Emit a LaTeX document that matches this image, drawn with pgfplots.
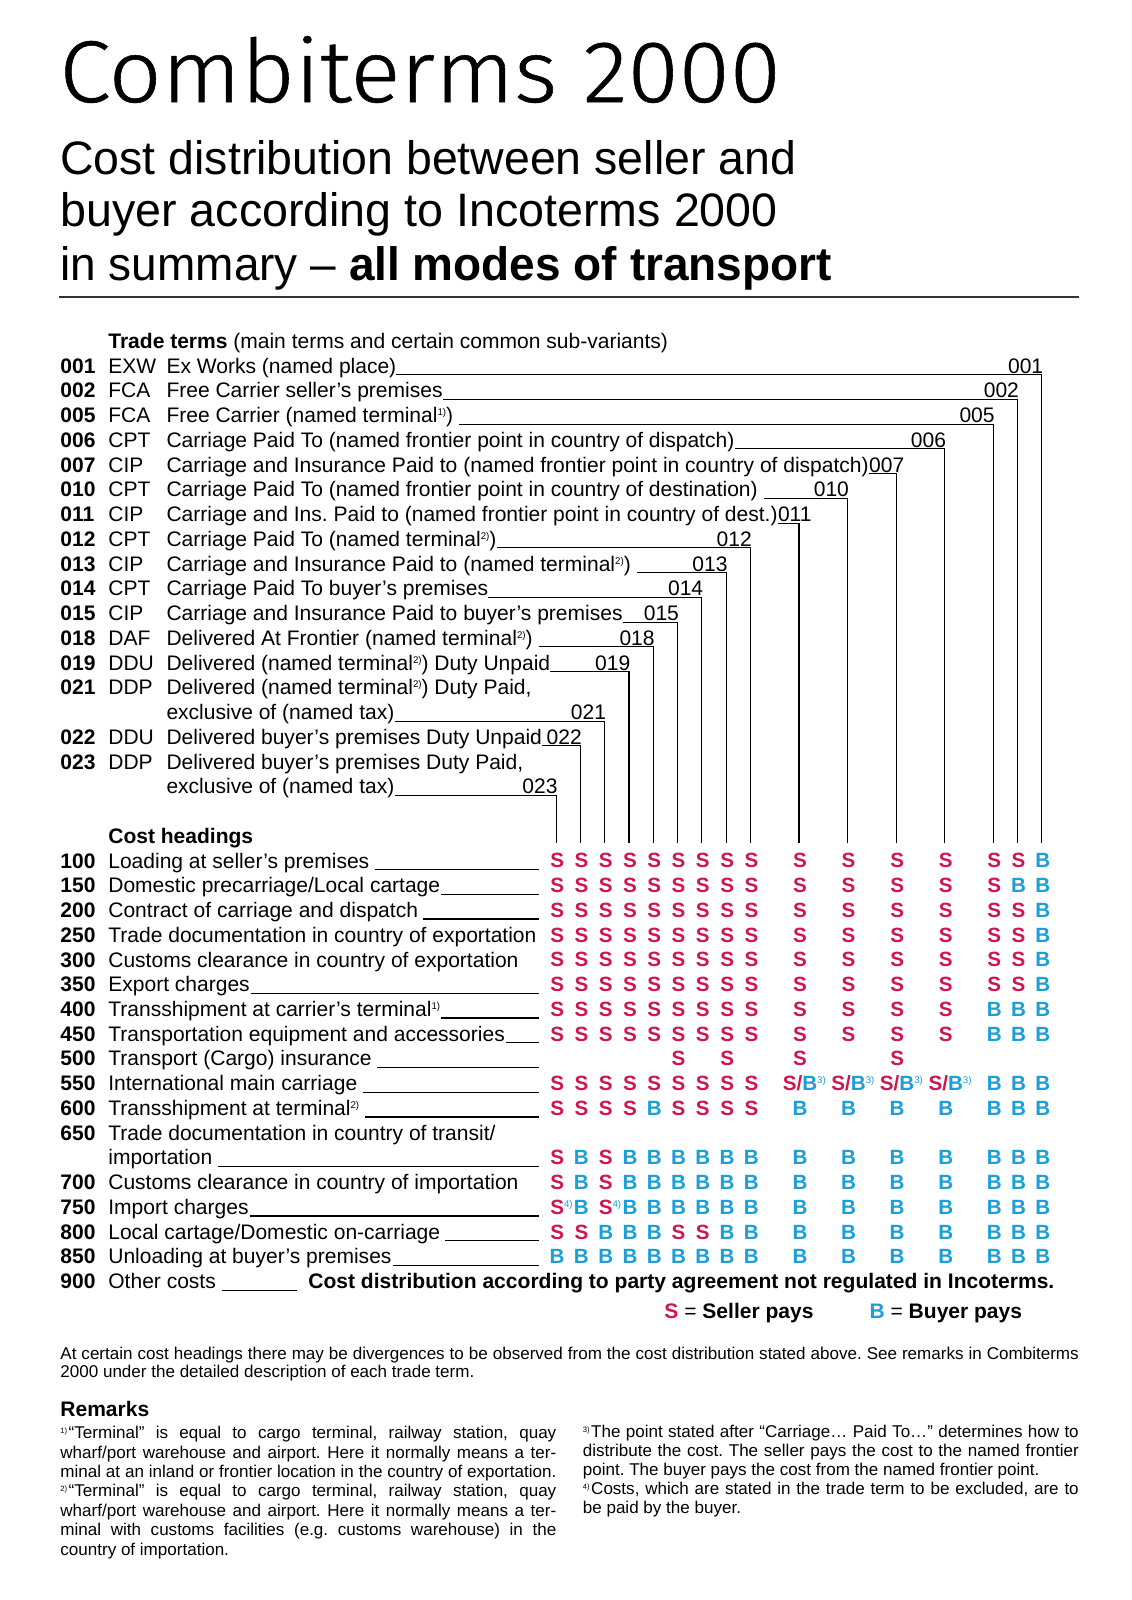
\documentclass[border=0pt]{standalone}
\usepackage{fontspec}
\setmainfont{Liberation Sans}
\newfontfamily\titlefont{Fira Sans Light}[FakeBold=0.6]
\usepackage{graphicx}
\usepackage{pgfplots}
\pgfplotsset{compat=1.18}
\usepackage{pgfplotstable}
\definecolor{sred}{RGB}{206,22,82}
\definecolor{bblue}{RGB}{28,158,214}
\frenchspacing
\newcommand\body{\fontsize{20.6}{24.25}\selectfont}
\newcommand\mbody{\bfseries\fontsize{20.2}{24.25}\selectfont}
\newcommand\fn{\fontsize{16.7}{19}\selectfont}
\newcommand\spp[1]{\raisebox{0.62ex}{\mdseries\fontsize{9.5}{9.5}\selectfont #1}}
\newcommand\fsp[1]{\raisebox{0.6ex}{\fontsize{7.5}{7.5}\selectfont #1}\hspace{1.5pt}}
\newcommand\rbase[1]{341.4+24.25*(#1)}
\newcommand\rline[1]{342.9+24.25*(#1)}
\newcommand\cx[1]{546+23.8*(#1)}

% S cells: k = column grid index, n = row index
\pgfplotstableread[row sep=\\]{
k n\\
0 21\\1 21\\2 21\\3 21\\4 21\\5 21\\6 21\\7 21\\8 21\\10 21\\12 21\\14 21\\16 21\\18 21\\19 21\\
0 22\\1 22\\2 22\\3 22\\4 22\\5 22\\6 22\\7 22\\8 22\\10 22\\12 22\\14 22\\16 22\\18 22\\
0 23\\1 23\\2 23\\3 23\\4 23\\5 23\\6 23\\7 23\\8 23\\10 23\\12 23\\14 23\\16 23\\18 23\\19 23\\
0 24\\1 24\\2 24\\3 24\\4 24\\5 24\\6 24\\7 24\\8 24\\10 24\\12 24\\14 24\\16 24\\18 24\\19 24\\
0 25\\1 25\\2 25\\3 25\\4 25\\5 25\\6 25\\7 25\\8 25\\10 25\\12 25\\14 25\\16 25\\18 25\\19 25\\
0 26\\1 26\\2 26\\3 26\\4 26\\5 26\\6 26\\7 26\\8 26\\10 26\\12 26\\14 26\\16 26\\18 26\\19 26\\
0 27\\1 27\\2 27\\3 27\\4 27\\5 27\\6 27\\7 27\\8 27\\10 27\\12 27\\14 27\\16 27\\
0 28\\1 28\\2 28\\3 28\\4 28\\5 28\\6 28\\7 28\\8 28\\10 28\\12 28\\14 28\\16 28\\
5 29\\7 29\\10 29\\14 29\\
0 30\\1 30\\2 30\\3 30\\4 30\\5 30\\6 30\\7 30\\8 30\\
0 31\\1 31\\2 31\\3 31\\5 31\\6 31\\7 31\\8 31\\
0 33\\2 33\\
0 34\\2 34\\
0 36\\1 36\\5 36\\6 36\\
}\Stab

% B cells
\pgfplotstableread[row sep=\\]{
k n\\
20 21\\
19 22\\20 22\\
20 23\\20 24\\20 25\\20 26\\
18 27\\19 27\\20 27\\
18 28\\19 28\\20 28\\
18 30\\19 30\\20 30\\
4 31\\10 31\\12 31\\14 31\\16 31\\18 31\\19 31\\20 31\\
1 33\\3 33\\4 33\\5 33\\6 33\\7 33\\8 33\\10 33\\12 33\\14 33\\16 33\\18 33\\19 33\\20 33\\
1 34\\3 34\\4 34\\5 34\\6 34\\7 34\\8 34\\10 34\\12 34\\14 34\\16 34\\18 34\\19 34\\20 34\\
1 35\\3 35\\4 35\\5 35\\6 35\\7 35\\8 35\\10 35\\12 35\\14 35\\16 35\\18 35\\19 35\\20 35\\
2 36\\3 36\\4 36\\7 36\\8 36\\10 36\\12 36\\14 36\\16 36\\18 36\\19 36\\20 36\\
0 37\\1 37\\2 37\\3 37\\4 37\\5 37\\6 37\\7 37\\8 37\\10 37\\12 37\\14 37\\16 37\\18 37\\19 37\\20 37\\
}\Btab

% S/B cells (frontier point split)
\pgfplotstableread[row sep=\\]{
k n\\
10 30\\12 30\\14 30\\16 30\\
}\SBtab

% S with remark 4
\pgfplotstableread[row sep=\\]{
k n\\
0 35\\2 35\\
}\SFtab

\pgfplotsset{
  mstyle/.style={draw=none, mark=none,
    every node near coord/.append style={anchor=center, inner sep=0pt, font=\mbody,
      text height=14.6pt, text depth=0pt, #1}},
}

\tikzset{
  t/.style={anchor=base west, inner sep=0pt, font=\body},
  conn/.style={line width=1.1pt, black},
}

\newcommand\trow[4]{%
  \node[t] at (59,{\rbase{#1}}) {\textbf{#2}};
  \node[t] at (106,{\rbase{#1}}) {#3};
  \node[t] (T#1) at (163,{\rbase{#1}}) {#4};}
% connector: text node, gap, row, column, label
\newcommand\conn[5]{%
  \draw[conn] (#1.base east) ++(#2pt,-1.5pt) -- ({\cx{#4}-1},{\rline{#3}}) -- ({\cx{#4}-1},826);
  \node[t,anchor=base east] at ({\cx{#4}+0.5},{\rbase{#3}}) {#5};}
% connector with label right after the text
\newcommand\connafter[4]{%
  \node[t] (L#2) at (#1.base east) {#4};
  \draw[conn] (L#2.base west) ++(0pt,-1.5pt) -- ({\cx{#3}-1},{\rline{#2}}) -- ({\cx{#3}-1},826);}
\newcommand\crow[3]{%
  \node[t] at (59,{\rbase{#1}}) {\textbf{#2}};
  \node[t] (C#1) at (106,{\rbase{#1}}) {#3};}
\newcommand\culine[2]{%
  \draw[conn] (C#1.base east) ++(#2pt,-1.5pt) -- (528,{\rline{#1}});}

\begin{document}
\begin{tikzpicture}
\begin{axis}[width=1109pt, height=1568pt, scale only axis,
  xmin=0, xmax=1109, ymin=0, ymax=1568, y dir=reverse,
  axis lines=none, clip=false]
\path (0,0) rectangle (1109,1568);

% ---- title block
\node[t] at (58,100) {\resizebox{707pt}{\height}{\titlefont\fontsize{86}{86}\selectfont Combiterms 2000}};
\node[t] at (59,171) {\resizebox{721pt}{\height}{\fontsize{46}{52}\selectfont Cost distribution between seller and}};
\node[t] at (59,222) {\resizebox{703pt}{\height}{\fontsize{46}{52}\selectfont buyer according to Incoterms 2000}};
\node[t] at (59,275) {\resizebox{756pt}{\height}{\fontsize{46}{52}\selectfont in summary -- \textbf{all modes of transport}}};
\draw[line width=1.2pt, black!80] (58,291) -- (1057,291);

% ---- trade terms
\node[t] at (106,{\rbase{0}}) {\textbf{Trade terms} (main terms and certain common sub-variants)};
\trow{1}{001}{EXW}{Ex Works (named place)}
\conn{T1}{0}{1}{20}{001}
\trow{2}{002}{FCA}{Free Carrier seller’s premises}
\conn{T2}{0}{2}{19}{002}
\trow{3}{005}{FCA}{Free Carrier (named terminal\spp{1)})}
\conn{T3}{6}{3}{18}{005}
\trow{4}{006}{CPT}{Carriage Paid To (named frontier point in country of dispatch)}
\conn{T4}{0}{4}{16}{006}
\trow{5}{007}{CIP}{Carriage and Insurance Paid to (named frontier point in country of dispatch)}
\connafter{T5}{5}{14}{007}
\trow{6}{010}{CPT}{Carriage Paid To (named frontier point in country of destination)}
\conn{T6}{6}{6}{12}{010}
\trow{7}{011}{CIP}{Carriage and Ins. Paid to (named frontier point in country of dest.)}
\connafter{T7}{7}{10}{011}
\trow{8}{012}{CPT}{Carriage Paid To (named terminal\spp{2)})}
\conn{T8}{0}{8}{8}{012}
\trow{9}{013}{CIP}{Carriage and Insurance Paid to (named terminal\spp{2)})}
\conn{T9}{6}{9}{7}{013}
\trow{10}{014}{CPT}{Carriage Paid To buyer’s premises}
\conn{T10}{0}{10}{6}{014}
\trow{11}{015}{CIP}{Carriage and Insurance Paid to buyer’s premises}
\conn{T11}{0}{11}{5}{015}
\trow{12}{018}{DAF}{Delivered At Frontier (named terminal\spp{2)})}
\conn{T12}{6}{12}{4}{018}
\trow{13}{019}{DDU}{Delivered (named terminal\spp{2)}) Duty Unpaid}
\conn{T13}{0}{13}{3}{019}
\trow{14}{021}{DDP}{Delivered (named terminal\spp{2)}) Duty Paid,}
\node[t] (T15) at (163,{\rbase{15}}) {exclusive of (named tax)};
\conn{T15}{0}{15}{2}{021}
\trow{16}{022}{DDU}{Delivered buyer’s premises Duty Unpaid}
\conn{T16}{0}{16}{1}{022}
\trow{17}{023}{DDP}{Delivered buyer’s premises Duty Paid,}
\node[t] (T18) at (163,{\rbase{18}}) {exclusive of (named tax)};
\conn{T18}{0}{18}{0}{023}

% ---- cost headings
\node[t] at (106,{\rbase{20}}) {\textbf{Cost headings}};
\crow{21}{100}{Loading at seller’s premises}\culine{21}{5}
\crow{22}{150}{Domestic precarriage/Local cartage}\culine{22}{1}
\crow{23}{200}{Contract of carriage and dispatch}\culine{23}{5}
\crow{24}{250}{Trade documentation in country of exportation}
\crow{25}{300}{Customs clearance in country of exportation}
\crow{26}{350}{Export charges}\culine{26}{1}
\crow{27}{400}{Transshipment at carrier’s terminal\spp{1)}}\culine{27}{1}
\crow{28}{450}{Transportation equipment and accessories}\culine{28}{1}
\crow{29}{500}{Transport (Cargo) insurance}\culine{29}{5}
\crow{30}{550}{International main carriage}\culine{30}{5}
\crow{31}{600}{Transshipment at terminal\spp{2)}}\culine{31}{5}
\crow{32}{650}{Trade documentation in country of transit/}
\node[t] (C33) at (106,{\rbase{33}}) {importation};\culine{33}{5}
\crow{34}{700}{Customs clearance in country of importation}
\crow{35}{750}{Import charges}\culine{35}{1}
\crow{36}{800}{Local cartage/Domestic on-carriage}\culine{36}{5}
\crow{37}{850}{Unloading at buyer’s premises}\culine{37}{1}
\crow{38}{900}{Other costs}
\draw[conn] (C38.base east) ++(6pt,-1.5pt) -- (291,{\rline{38}});
\node[t] at (302,{\rbase{38}}) {\resizebox{731pt}{\height}{\textbf{Cost distribution according to party agreement not regulated in Incoterms.}}};

% ---- S / B matrix
\addplot[mstyle={text=sred}, nodes near coords={S}]
  table[x expr={546+23.8*\thisrow{k}}, y expr={334+24.25*\thisrow{n}}] {\Stab};
\addplot[mstyle={text=bblue}, nodes near coords={B}]
  table[x expr={546+23.8*\thisrow{k}}, y expr={334+24.25*\thisrow{n}}] {\Btab};
\addplot[mstyle={text=sred}, nodes near coords={S/\textcolor{bblue}{B\rlap{\spp{3)}}}}]
  table[x expr={546+23.8*\thisrow{k}}, y expr={334+24.25*\thisrow{n}}] {\SBtab};
\addplot[mstyle={text=sred}, nodes near coords={S\rlap{\textcolor{bblue}{\spp{4)}}}}]
  table[x expr={546+23.8*\thisrow{k}}, y expr={334+24.25*\thisrow{n}}] {\SFtab};

% ---- legend
\node[t] at (651,1292.5) {\textcolor{sred}{\bfseries S} = \textbf{Seller pays}};
\node[t] at (852,1292.5) {\textcolor{bblue}{\bfseries B} = \textbf{Buyer pays}};

% ---- note
\node[t,font=\fn] at (59,1332) {\makebox[998pt][s]{At certain cost headings there may be divergences to be observed from the cost distribution stated above. See remarks in Combiterms}};
\node[t,font=\fn] at (59,1350) {2000 under the detailed description of each trade term.};

% ---- remarks
\node[t] at (59,1388) {\textbf{Remarks}};
\node[t,font=\fn] at (59,1410) {\makebox[486pt][s]{\fsp{1)}“Terminal” is equal to cargo terminal, railway station, quay}};
\node[t,font=\fn] at (59,1429) {\makebox[486pt][s]{wharf/port warehouse and airport. Here it normally means a ter-}};
\node[t,font=\fn] at (59,1448) {\makebox[486pt][s]{minal at an inland or frontier location in the country of exportation.}};
\node[t,font=\fn] at (59,1467) {\makebox[486pt][s]{\fsp{2)}“Terminal” is equal to cargo terminal, railway station, quay}};
\node[t,font=\fn] at (59,1486) {\makebox[486pt][s]{wharf/port warehouse and airport. Here it normally means a ter-}};
\node[t,font=\fn] at (59,1505) {\makebox[486pt][s]{minal with customs facilities (e.g. customs warehouse) in the}};
\node[t,font=\fn] at (59,1524) {country of importation.};

\node[t,font=\fn] at (571,1409) {\makebox[486pt][s]{\fsp{3)}The point stated after “Carriage… Paid To…” determines how to}};
\node[t,font=\fn] at (571,1427.5) {\makebox[486pt][s]{distribute the cost. The seller pays the cost to the named frontier}};
\node[t,font=\fn] at (571,1446) {point. The buyer pays the cost from the named frontier point.};
\node[t,font=\fn] at (571,1464.5) {\makebox[486pt][s]{\fsp{4)}Costs, which are stated in the trade term to be excluded, are to}};
\node[t,font=\fn] at (571,1483) {be paid by the buyer.};
\end{axis}
\end{tikzpicture}
\end{document}
